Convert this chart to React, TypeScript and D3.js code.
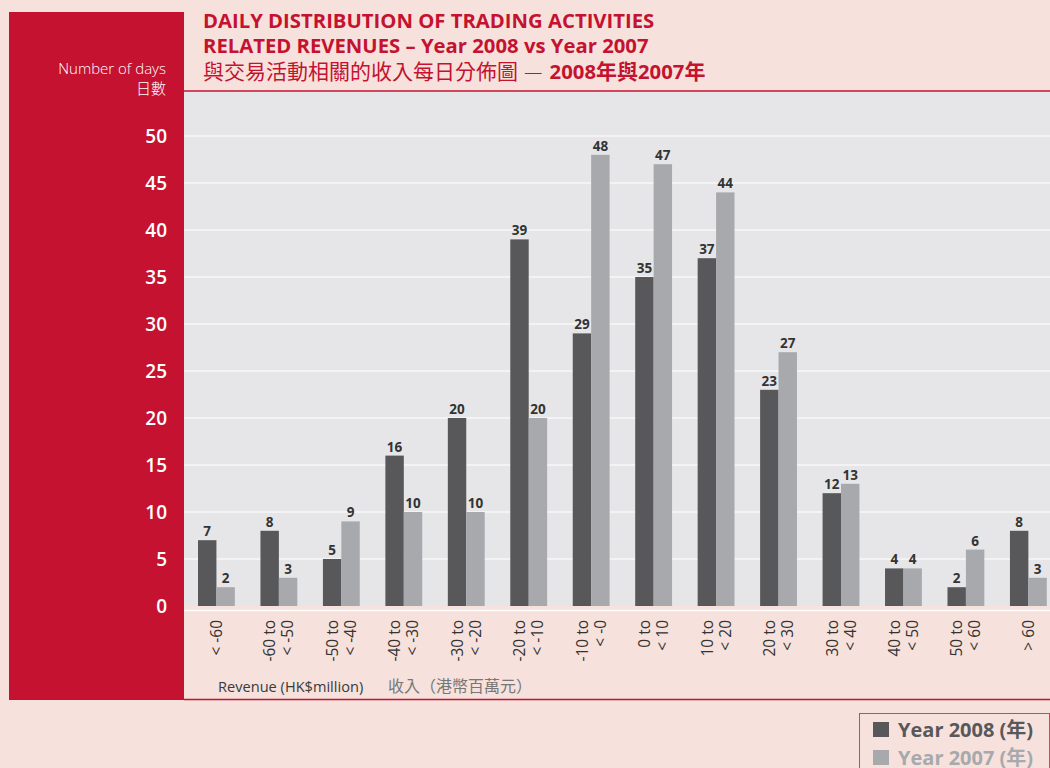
import React from "react";
import * as d3 from "d3";

const categories: string[][] = [
  ["< -60"],
  ["-60 to", "< -50"],
  ["-50 to", "< -40"],
  ["-40 to", "< -30"],
  ["-30 to", "< -20"],
  ["-20 to", "< -10"],
  ["-10 to", "< -0"],
  ["0 to", "< 10"],
  ["10 to", "< 20"],
  ["20 to", "< 30"],
  ["30 to", "< 40"],
  ["40 to", "< 50"],
  ["50 to", "< 60"],
  ["> 60"],
];
const year2008: number[] = [7, 8, 5, 16, 20, 39, 29, 35, 37, 23, 12, 4, 2, 8];
const year2007: number[] = [2, 3, 9, 10, 10, 20, 48, 47, 44, 27, 13, 4, 6, 3];
const yTicks: number[] = [0, 5, 10, 15, 20, 25, 30, 35, 40, 45, 50];
const seriesNames = ["Year 2008 (年)", "Year 2007 (年)"];

const W = 1050;
const H = 768;
const BG = "#f6e1dc";
const RED = "#c41230";
const DARK = "#58585a";
const LIGHT = "#a7a9ac";
const PLOT_BG = "#e6e6e8";
const FONT = '"Open Sans", "Noto Sans CJK TC", sans-serif';
const CJK = '"Noto Sans CJK TC", "Open Sans", sans-serif';

export default function App() {
  const keys = categories.map((c, i) => String(i));
  const x = d3
    .scaleBand<string>()
    .domain(keys)
    .range([185.2, 1059.6])
    .paddingInner(0.41)
    .paddingOuter(0.205);
  const inner = d3
    .scaleBand<string>()
    .domain(["2008", "2007"])
    .range([0, x.bandwidth()]);
  const y = d3.scaleLinear().domain([0, 50]).range([606, 136]);

  const plotLeft = 184;
  const plotTop = 92;
  const plotBottom = 606;

  const series = [
    { key: "2008", values: year2008, color: DARK },
    { key: "2007", values: year2007, color: LIGHT },
  ];

  return (
    <svg
      width={W}
      height={H}
      style={{ position: "absolute", left: 0, top: 0, display: "block" }}
      fontFamily={FONT}
    >
      <rect x={0} y={0} width={W} height={H} fill={BG} />
      {/* red side panel */}
      <rect x={9} y={12} width={175} height={688} fill={RED} />
      {/* plot area */}
      <rect x={plotLeft} y={plotTop} width={W - plotLeft} height={plotBottom - plotTop} fill={PLOT_BG} />
      <line x1={plotLeft} x2={W} y1={91} y2={91} stroke={RED} strokeWidth={1.5} />
      <line x1={plotLeft} x2={W} y1={610.5} y2={610.5} stroke="#ffffff" strokeWidth={1.5} />
      <line x1={plotLeft} x2={W} y1={699.5} y2={699.5} stroke={RED} strokeWidth={1.5} />

      {/* gridlines */}
      {yTicks
        .filter((t) => t > 0)
        .map((t) => (
          <line key={t} x1={plotLeft} x2={W} y1={y(t)} y2={y(t)} stroke="#ffffff" strokeWidth={1.2} />
        ))}

      {/* y tick labels */}
      {yTicks.map((t) => (
        <text
          key={t}
          x={167}
          y={y(t)}
          dy="0.35em"
          textAnchor="end"
          fill="#ffffff"
          fontSize={19}
          fontWeight={600}
        >
          {t}
        </text>
      ))}

      {/* y axis title */}
      <text x={166} y={74} textAnchor="end" fill="#ffffff" fontSize={15} fontWeight={300}>
        Number of days
      </text>
      <text x={166} y={94} textAnchor="end" fill="#ffffff" fontSize={15} fontFamily={CJK} fontWeight={300}>
        日數
      </text>

      {/* title */}
      <g fill={RED} fontWeight={700} fontSize={20.3}>
        <text x={203} y={28}>DAILY DISTRIBUTION OF TRADING ACTIVITIES</text>
        <text x={203} y={53}>RELATED REVENUES – Year 2008 vs Year 2007</text>
        <text x={203} y={79}>
          <tspan fontFamily={CJK} fontWeight={400} fontSize={21}>與交易活動相關的收入每日分佈圖</tspan>
          <tspan fontFamily={CJK} fontWeight={300} fontSize={21} dx={6}>—</tspan>
          <tspan fontWeight={700} dx={7}>2008</tspan>
          <tspan fontFamily={CJK} fontWeight={700} fontSize={21}>年與</tspan>
          <tspan fontWeight={700}>2007</tspan>
          <tspan fontFamily={CJK} fontWeight={700} fontSize={21}>年</tspan>
        </text>
      </g>

      {/* bars */}
      {series.map((s) => (
        <g key={s.key}>
          {s.values.map((v, i) => {
            const bx = (x(String(i)) as number) + (inner(s.key) as number);
            return (
              <g key={i}>
                <rect x={bx} y={y(v)} width={inner.bandwidth()} height={y(0) - y(v)} fill={s.color} />
                <text
                  x={bx + inner.bandwidth() / 2}
                  y={y(v) - 4}
                  textAnchor="middle"
                  fill="#333333"
                  fontSize={13.5}
                  fontWeight={700}
                >
                  {v}
                </text>
              </g>
            );
          })}
        </g>
      ))}

      {/* x labels */}
      {categories.map((lines, i) => {
        const cx = (x(String(i)) as number) + x.bandwidth() / 2;
        const offsets = lines.length === 1 ? [0] : [-9, 9];
        return (
          <g key={i}>
            {lines.map((ln, j) => (
              <text
                key={j}
                transform={`translate(${cx + offsets[j] + 5.5},620) rotate(-90)`}
                textAnchor="end"
                fill="#333333"
                fontSize={15.5}
              >
                {ln}
              </text>
            ))}
          </g>
        );
      })}

      {/* x axis title */}
      <text x={218} y={692} fill="#3a3a3a" fontSize={14.6}>
        Revenue (HK$million)
      </text>
      <text x={388} y={692} fill="#777777" fontSize={16} fontFamily={CJK}>
        收入（港幣百萬元）
      </text>

      {/* legend */}
      <rect x={859.5} y={713.5} width={190} height={60} fill="none" stroke="#d9405c" strokeWidth={1} />
      {series.map((s, i) => (
        <g key={s.key}>
          <rect x={873} y={722 + i * 28} width={16} height={15} fill={s.color} />
          <text x={898} y={737 + i * 28} fill={s.color} fontSize={20} fontWeight={700}>
            {seriesNames[i]}
          </text>
        </g>
      ))}
    </svg>
  );
}
